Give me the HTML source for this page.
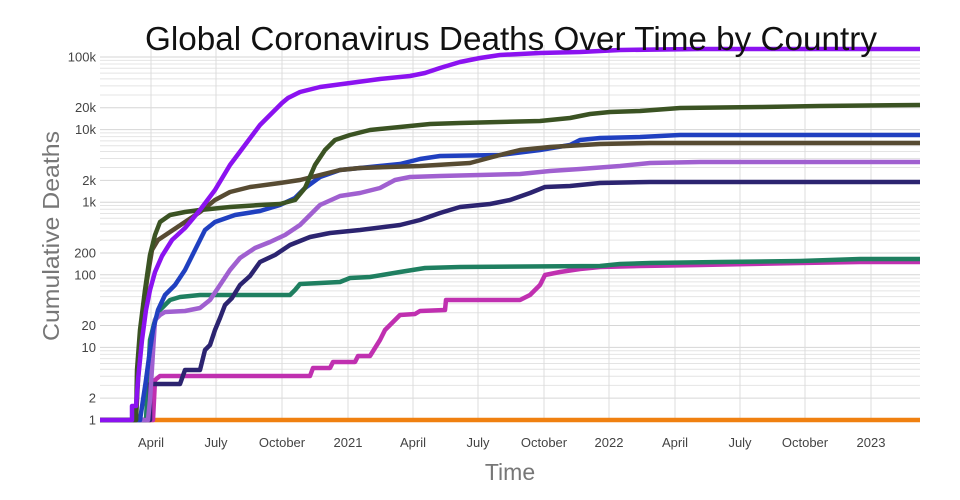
<!DOCTYPE html>
<html><head><meta charset="utf-8"><style>
html,body{margin:0;padding:0;background:#fff;}
svg{display:block;font-family:"Liberation Sans",sans-serif;}
</style></head><body>
<svg id="s" width="960" height="500" xmlns="http://www.w3.org/2000/svg">
<g id="grid"></g>
<g id="series" fill="none" stroke-width="4.5" stroke-linejoin="round"></g>
<g id="labels" font-size="13" fill="#444"></g>
<text x="511" y="50" font-size="33.5" text-anchor="middle" fill="#111" textLength="732" lengthAdjust="spacingAndGlyphs">Global Coronavirus Deaths Over Time by Country</text>
<text x="510" y="480" font-size="23" text-anchor="middle" fill="#777">Time</text>
<text transform="translate(59,236) rotate(-90)" font-size="23" text-anchor="middle" fill="#777" textLength="210" lengthAdjust="spacingAndGlyphs">Cumulative Deaths</text>
</svg>
<script>
const NS="http://www.w3.org/2000/svg";
function el(t,a,p){const e=document.createElementNS(NS,t);for(const k in a)e.setAttribute(k,a[k]);p.appendChild(e);return e;}
const g=document.getElementById('grid'),lb=document.getElementById('labels'),sr=document.getElementById('series');
const Y=v=>420-72.6*Math.log10(v);
const L=100,R=920;
const majors={1:'1',2:'2',10:'10',20:'20',100:'100',200:'200',1000:'1k',2000:'2k',10000:'10k',20000:'20k',100000:'100k'};
for(let k=0;k<=5;k++)for(let m=1;m<=9;m++){const v=m*Math.pow(10,k);const y=Y(v);if(y<45)continue;
 const maj=majors[v]!==undefined;
 el('line',{x1:L,x2:R,y1:y,y2:y,stroke:maj?'#d6d6d6':'#e4e4e4','stroke-width':1},g);
 if(maj){const t=el('text',{x:96,y:y+4.5,'text-anchor':'end'},lb);t.textContent=majors[v];}}
const xs=[[151,'April'],[216,'July'],[282,'October'],[348,'2021'],[413,'April'],[478,'July'],[544,'October'],[609,'2022'],[675,'April'],[740,'July'],[805,'October'],[871,'2023']];
xs.forEach(([x,s])=>{el('line',{x1:x,x2:x,y1:45,y2:420,stroke:'#dcdcdc','stroke-width':1},g);const t=el('text',{x:x,y:447,'text-anchor':'middle'},lb);t.textContent=s;});
const S=[
['#f08010','100,420 920,420'],
['#c030b0','100,420 153,420 155,380 160,376 310,376 313,368 330,368 333,362 355,362 358,356 370,356 375,348 380,340 385,330 395,320 400,315 415,314 420,311 445,310 446,300 520,300 530,295 540,285 545,275 560,272 580,269 600,267 640,266 700,265 800,263 860,262 920,262'],
['#1f7f60','100,420 146,420 150,340 155,320 160,310 170,300 180,297 200,295 290,295 295,290 300,284 340,282 350,278 370,277 400,272 425,268 460,267 600,266 620,264 650,263 720,262 800,261 860,259 920,259'],
['#2c2470','100,420 150,420 150,384 180,384 185,370 200,370 205,350 210,345 215,330 220,318 225,305 232,298 240,285 250,276 260,262 275,255 290,245 310,237 330,233 360,230 400,225 420,220 440,213 460,207 490,204 510,200 530,193 545,187 570,186 600,183 650,182 920,182'],
['#a060d0','100,420 148,420 150,400 155,320 160,315 165,312 185,311 200,308 210,300 220,285 230,270 240,258 255,248 270,242 285,235 300,225 320,205 340,196 360,193 380,188 395,180 410,177 440,176 480,175 520,174 550,171 580,169 620,166 650,163 700,162 920,162'],
['#2040c0','100,420 140,420 143,400 146,380 150,350 153,330 158,310 165,295 175,285 185,270 195,250 205,230 215,222 235,215 260,211 280,205 295,198 305,188 320,177 340,170 370,167 400,164 420,159 440,156 500,155 540,150 570,145 580,140 600,138 640,137 680,135 920,135'],
['#574b32','100,420 136,420 138,380 142,320 147,280 152,250 158,240 170,232 185,222 200,212 215,200 230,192 250,187 280,183 300,180 320,175 340,170 360,168 420,166 470,163 500,155 520,150 550,147 600,144 650,143 920,143'],
['#3b5323','100,420 136,420 137,370 140,330 145,290 150,255 155,235 160,222 170,215 185,212 200,210 230,207 260,205 280,204 295,200 305,188 315,165 325,150 335,140 350,135 370,130 400,127 430,124 460,123 540,121 570,118 590,114 610,112 640,111 680,108 760,107 820,106 920,105'],
['#8b12f0','100,420 132,420 132,406 136,406 138,380 142,340 146,310 150,290 155,272 162,256 172,240 185,228 200,210 215,190 230,165 245,145 260,125 275,110 282,103 288,98 300,92 320,87 350,83 380,79 410,76 425,73 440,68 460,62 480,58 500,55 540,53 580,52 620,50 700,49 920,49']
];
S.forEach(([c,p])=>el('polyline',{points:p,stroke:c},sr));
</script>
</body></html>
